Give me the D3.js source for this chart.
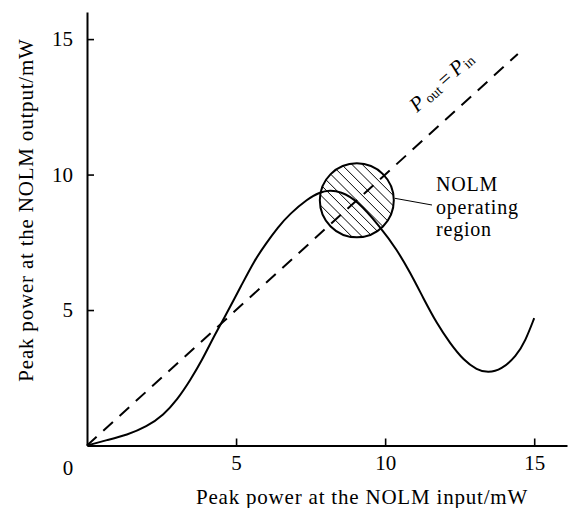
<!DOCTYPE html>
<html>
<head>
<meta charset="utf-8">
<script src="https://cdn.jsdelivr.net/npm/d3@7"></script>
<style>
  html, body { margin: 0; padding: 0; background: #fff; }
  svg text { font-family: "Liberation Serif", "Times New Roman", serif; fill: #000; }
</style>
</head>
<body>
<svg id="chart" width="571" height="508"></svg>
<script>
// ---- data ----
const inputPower  = [0, 0.67, 1.34, 2.0, 2.57, 3.02, 3.47, 3.86, 4.25, 4.55, 5.2, 5.6, 6.0, 6.4, 6.8, 7.4, 7.8, 8.15, 8.5, 9.05, 9.83, 10.39, 10.84, 11.29, 11.73, 12.18, 12.63, 13.08, 13.45, 13.9, 14.4, 14.7, 15.0];
const outputPower = [0, 0.2, 0.39, 0.69, 1.13, 1.68, 2.42, 3.15, 4.01, 4.6, 5.95, 6.8, 7.45, 8.05, 8.55, 9.1, 9.35, 9.42, 9.37, 9.06, 8.07, 7.24, 6.38, 5.42, 4.51, 3.77, 3.15, 2.79, 2.68, 2.8, 3.3, 3.85, 4.7];
const diagonalEnds = [0, 14.45];
const xTicks = [5, 10, 15];
const yTicks = [5, 10, 15];
const regionCenter = [9.05, 9.05];
const regionLabel = ["NOLM", "operating", "region"];
const xTitle = "Peak power at the NOLM input/mW";
const yTitle = "Peak power at the NOLM output/mW";

const FS = 21, LS = 0.8;

// ---- scales ----
const svg = d3.select("#chart");
const x = d3.scaleLinear().domain([0, 16.1]).range([87, 567]);
const y = d3.scaleLinear().domain([0, 16]).range([445.5, 12]);

// axes
const xAxis = d3.axisBottom(x).tickValues(xTicks).tickSizeInner(-7).tickSizeOuter(0).tickPadding(12);
const yAxis = d3.axisLeft(y).tickValues(yTicks).tickSizeInner(-7).tickSizeOuter(0).tickPadding(14);

const gx = svg.append("g").attr("transform", `translate(0,${y(0)})`).call(xAxis);
const gy = svg.append("g").attr("transform", `translate(${x(0)},0)`).call(yAxis);
[gx, gy].forEach(g => {
  g.select(".domain").attr("stroke", "#000").attr("stroke-width", 2);
  g.selectAll(".tick line").attr("stroke", "#000").attr("stroke-width", 1.6);
  g.selectAll(".tick text").attr("font-size", FS).attr("font-family", "Liberation Serif, Times New Roman, serif").attr("fill", "#000");
});
gx.selectAll(".tick text").attr("dy", "0.6em");
svg.append("text").attr("x", 68).attr("y", 475).attr("text-anchor", "middle").attr("font-size", FS).text("0");

// titles
svg.append("text").attr("x", 362).attr("y", 504).attr("text-anchor", "middle").attr("font-size", FS).attr("letter-spacing", LS).text(xTitle);
svg.append("text").attr("transform", "translate(33,210) rotate(-90)").attr("text-anchor", "middle").attr("font-size", FS).attr("letter-spacing", LS).text(yTitle);

// hatched circle
const cx = x(regionCenter[0]), cy = y(regionCenter[1]), r = 37;
const defs = svg.append("defs");
defs.append("clipPath").attr("id", "circClip").append("circle").attr("cx", cx).attr("cy", cy).attr("r", r);
const hatch = svg.append("g").attr("clip-path", "url(#circClip)");
const spacing = 7.3;
for (let k = -7; k <= 7; k++) {
  const off = k * spacing * Math.SQRT2;
  hatch.append("line")
    .attr("x1", cx - 60 + off).attr("y1", cy - 60)
    .attr("x2", cx + 60 + off).attr("y2", cy + 60)
    .attr("stroke", "#000").attr("stroke-width", 1);
}

// diagonal dashed line
svg.append("line")
  .attr("x1", x(diagonalEnds[0])).attr("y1", y(diagonalEnds[0]))
  .attr("x2", x(diagonalEnds[1])).attr("y2", y(diagonalEnds[1]))
  .attr("stroke", "#000").attr("stroke-width", 2).attr("stroke-dasharray", "13,9");

// curve
const pts = inputPower.map((v, i) => [v, outputPower[i]]);
svg.append("path")
  .attr("d", d3.line().x(d => x(d[0])).y(d => y(d[1])).curve(d3.curveBasis)(pts))
  .attr("fill", "none").attr("stroke", "#000").attr("stroke-width", 2);

// circle outline
svg.append("circle").attr("cx", cx).attr("cy", cy).attr("r", r)
  .attr("fill", "none").attr("stroke", "#000").attr("stroke-width", 2);

// leader line + label
svg.append("line").attr("x1", cx + r + 1).attr("y1", cy - 2).attr("x2", 432).attr("y2", 205)
  .attr("stroke", "#000").attr("stroke-width", 1);
regionLabel.forEach((t, i) => {
  svg.append("text").attr("x", 436).attr("y", 191 + i * 22.5).attr("font-size", 20).attr("letter-spacing", LS).text(t);
});

// Pout = Pin label
const ang = Math.atan((y(0) - y(5)) / (x(5) - x(0))) * 180 / Math.PI;
const lbl = svg.append("text").attr("transform", `translate(417,113) rotate(${-ang})`).attr("font-size", FS);
lbl.append("tspan").attr("font-style", "italic").text("P");
lbl.append("tspan").attr("font-size", 14).attr("dx", 3).attr("dy", 2).text("out");
lbl.append("tspan").attr("dx", 4).attr("dy", -2).text("=");
lbl.append("tspan").attr("font-style", "italic").attr("dx", 4).text("P");
lbl.append("tspan").attr("font-size", 14).attr("dx", 1).attr("dy", 2).text("in");
</script>
</body>
</html>
